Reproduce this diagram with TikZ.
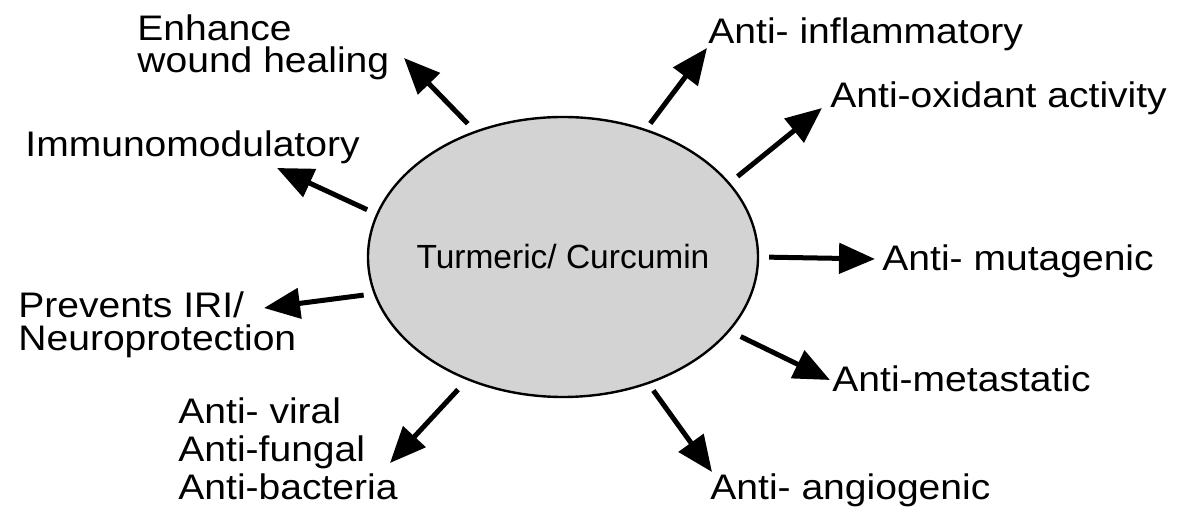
\documentclass[tikz,border=0pt]{standalone}
\usepackage{fontspec}
\setmainfont{Liberation Sans}
\newfontfamily\labfont{Liberation Sans}[FakeStretch=1.10]
\usetikzlibrary{shapes.geometric, arrows.meta}
\definecolor{curgray}{RGB}{211,211,211}

\begin{document}
\begin{tikzpicture}[x=0.5pt, y=-0.5pt,
  effect/.style={inner sep=0pt, align=left, font=\labfont\fontsize{17.75}{15}\selectfont},
  arr/.style={line width=2.5pt, shorten <=5pt, -{Triangle[length=18pt, width=15pt]}}]
\useasboundingbox (0,0) rectangle (1177,512);

% central ellipse
\node[ellipse, draw, line width=1.2pt, fill=curgray, inner sep=0pt,
  minimum width=195pt, minimum height=140pt] (cur) at (563,257) {};
\node[font=\fontsize{16.75}{20}\selectfont] (curtxt) at (cur.center) {Turmeric/ Curcumin};

% effects
\node[effect, anchor=north west, font=\labfont\fontsize{17.75}{16}\selectfont] (heal) at (137,14) {Enhance\\wound healing};
\node[effect, anchor=base west] (immuno) at (25,157) {Immunomodulatory};
\node[effect, anchor=north west, font=\labfont\fontsize{17.75}{16.5}\selectfont] (iri) at (18,291) {Prevents IRI/\\Neuroprotection};
\node[effect, anchor=north west, font=\labfont\fontsize{17.75}{19}\selectfont] (antiv) at (178,397) {Anti- viral\\Anti-fungal\\Anti-bacteria};
\node[effect, anchor=base west] (infl) at (708,44) {Anti- inflammatory};
\node[effect, anchor=base west] (oxid) at (830,108) {Anti-oxidant activity};
\node[effect, anchor=base west] (muta) at (882,271) {Anti- mutagenic};
\node[effect, anchor=base west] (meta) at (832,392) {Anti-metastatic};
\node[effect, anchor=base west] (angio) at (710,500) {Anti- angiogenic};

% arrow tips
\coordinate (tHeal) at (404,58);
\coordinate (tImmuno) at (277,168);
\coordinate (tIri) at (264,308);
\coordinate (tAntiv) at (390,463);
\coordinate (tAngio) at (712,472);
\coordinate (tMeta) at (830,380);
\coordinate (tMuta) at (875,259);
\coordinate (tOxid) at (822,108);
\coordinate (tInfl) at (707,48);

\draw[arr] (cur.125) -- (tHeal);
\draw[arr] (cur.167) -- (tImmuno);
\draw[arr] (cur.191) -- (tIri);
\draw[arr, shorten <=6.5pt] (cur.232) -- (tAntiv);
\draw[arr, shorten <=4pt] (cur.304) -- (tAngio);
\draw[arr, shorten <=6pt] (cur.336) -- (tMeta);
\draw[arr] (cur.0) -- (tMuta);
\draw[arr] (cur.24) -- (tOxid);
\draw[arr, shorten <=3.5pt] (cur.57) -- (tInfl);
\end{tikzpicture}
\end{document}
